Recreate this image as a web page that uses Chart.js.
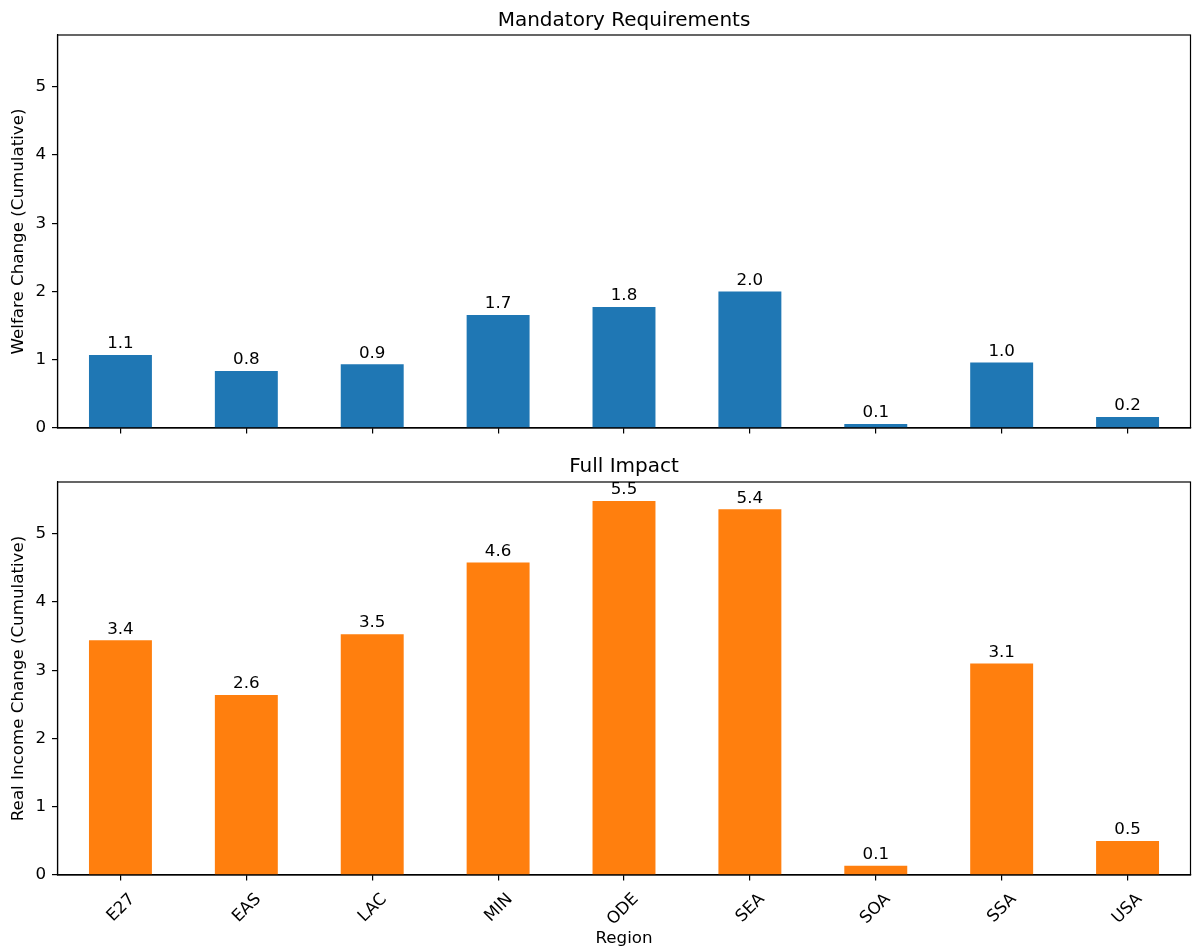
<!DOCTYPE html>
<html>
<head>
<meta charset="utf-8">
<script src="https://cdn.jsdelivr.net/npm/chart.js@4.4.1/dist/chart.umd.min.js"></script>
<style>
  html, body { margin: 0; padding: 0; background: #fff; }
  #wrap { position: relative; width: 1192px; height: 951px; background: #fff; }
  canvas { position: absolute; left: 0; }
</style>
</head>
<body>
<div id="wrap">
  <canvas id="c1" width="1192" height="440" style="top:0px"></canvas>
  <canvas id="c2" width="1192" height="511" style="top:440px"></canvas>
</div>
<script>
// ---- data ----
const regions = ["E27", "EAS", "LAC", "MIN", "ODE", "SEA", "SOA", "SSA", "USA"];
const welfareChange = [1.07, 0.835, 0.935, 1.655, 1.775, 2.0, 0.06, 0.96, 0.16];
const realIncomeChange = [3.44, 2.64, 3.53, 4.58, 5.48, 5.36, 0.135, 3.10, 0.50];
const yTicks = [0, 1, 2, 3, 4, 5];
const yMax = 5.76;

const FONT = "DejaVu Sans";
const FS = 16.7;
Chart.defaults.font.family = FONT;
Chart.defaults.font.size = FS;
Chart.defaults.color = "#000";

const boxPlugin = {
  id: "box",
  afterDatasetsDraw(chart) {
    const a = chart.chartArea, ctx = chart.ctx;
    ctx.save();
    ctx.strokeStyle = "#000";
    ctx.lineWidth = 1.2;
    ctx.strokeRect(a.left, a.top, a.right - a.left, a.bottom - a.top);
    ctx.restore();
  }
};

const barLabelPlugin = {
  id: "barLabels",
  afterDraw(chart) {
    const ctx = chart.ctx;
    const meta = chart.getDatasetMeta(0);
    const vals = chart.data.datasets[0].data;
    ctx.save();
    ctx.font = FS + "px '" + FONT + "'";
    ctx.fillStyle = "#000";
    ctx.textAlign = "center";
    ctx.textBaseline = "alphabetic";
    meta.data.forEach((bar, i) => {
      ctx.fillText(vals[i].toFixed(1), bar.x, bar.y - 6.7);
    });
    ctx.restore();
  }
};

function makeChart(id, values, color, title, titlePad, yLabel, showX, xh) {
  return new Chart(document.getElementById(id), {
    type: "bar",
    data: {
      labels: regions,
      datasets: [{
        data: values,
        backgroundColor: color,
        borderWidth: 0,
        barPercentage: 0.5,
        categoryPercentage: 1.0
      }]
    },
    options: {
      responsive: false,
      animation: false,
      devicePixelRatio: 1,
      layout: { padding: { left: 0, right: 1.5, top: 0, bottom: 0 } },
      plugins: {
        legend: { display: false },
        tooltip: { enabled: false },
        title: {
          display: true,
          fullSize: false,
          text: title,
          color: "#000",
          font: { family: FONT, size: 20, weight: "normal" },
          padding: titlePad
        }
      },
      scales: {
        x: {
          offset: true,
          grid: { display: true, drawOnChartArea: false, drawTicks: true, tickLength: 5.5, offset: false, color: "#000", lineWidth: 1.2 },
          border: { display: true, color: "#000", width: 1.2 },
          ticks: showX ? {
            display: true, minRotation: 45, maxRotation: 45, padding: 9, labelOffset: 12,
            font: { family: FONT, size: FS }, color: "#000", autoSkip: false
          } : { display: false },
          title: showX ? { display: true, text: "Region", font: { family: FONT, size: FS }, color: "#000", padding: { top: 0, bottom: 2 } } : { display: false },
          afterFit(s) { s.height = xh; s.paddingLeft = 0; s.paddingRight = 0; }
        },
        y: {
          min: 0,
          max: yMax,
          afterBuildTicks(s) { s.ticks = yTicks.map(v => ({ value: v })); },
          grid: { display: true, drawOnChartArea: false, drawTicks: true, tickLength: 5.5, color: "#000", lineWidth: 1.2 },
          border: { display: true, color: "#000", width: 1.2 },
          ticks: { padding: 6, font: { family: FONT, size: FS }, color: "#000", callback: v => String(v) },
          title: { display: true, text: yLabel, font: { family: FONT, size: FS }, color: "#000", padding: { top: 9, bottom: 0 } },
          afterFit(s) { s.width = 57.5; s.paddingTop = 0; s.paddingBottom = 0; }
        }
      }
    },
    plugins: [boxPlugin, barLabelPlugin]
  });
}

makeChart("c1", welfareChange, "#1f77b4", "Mandatory Requirements", { top: 9, bottom: 2 }, "Welfare Change (Cumulative)", false, 12);
makeChart("c2", realIncomeChange, "#ff7f0e", "Full Impact", { top: 15, bottom: 3 }, "Real Income Change (Cumulative)", true, 76);
</script>
</body>
</html>
